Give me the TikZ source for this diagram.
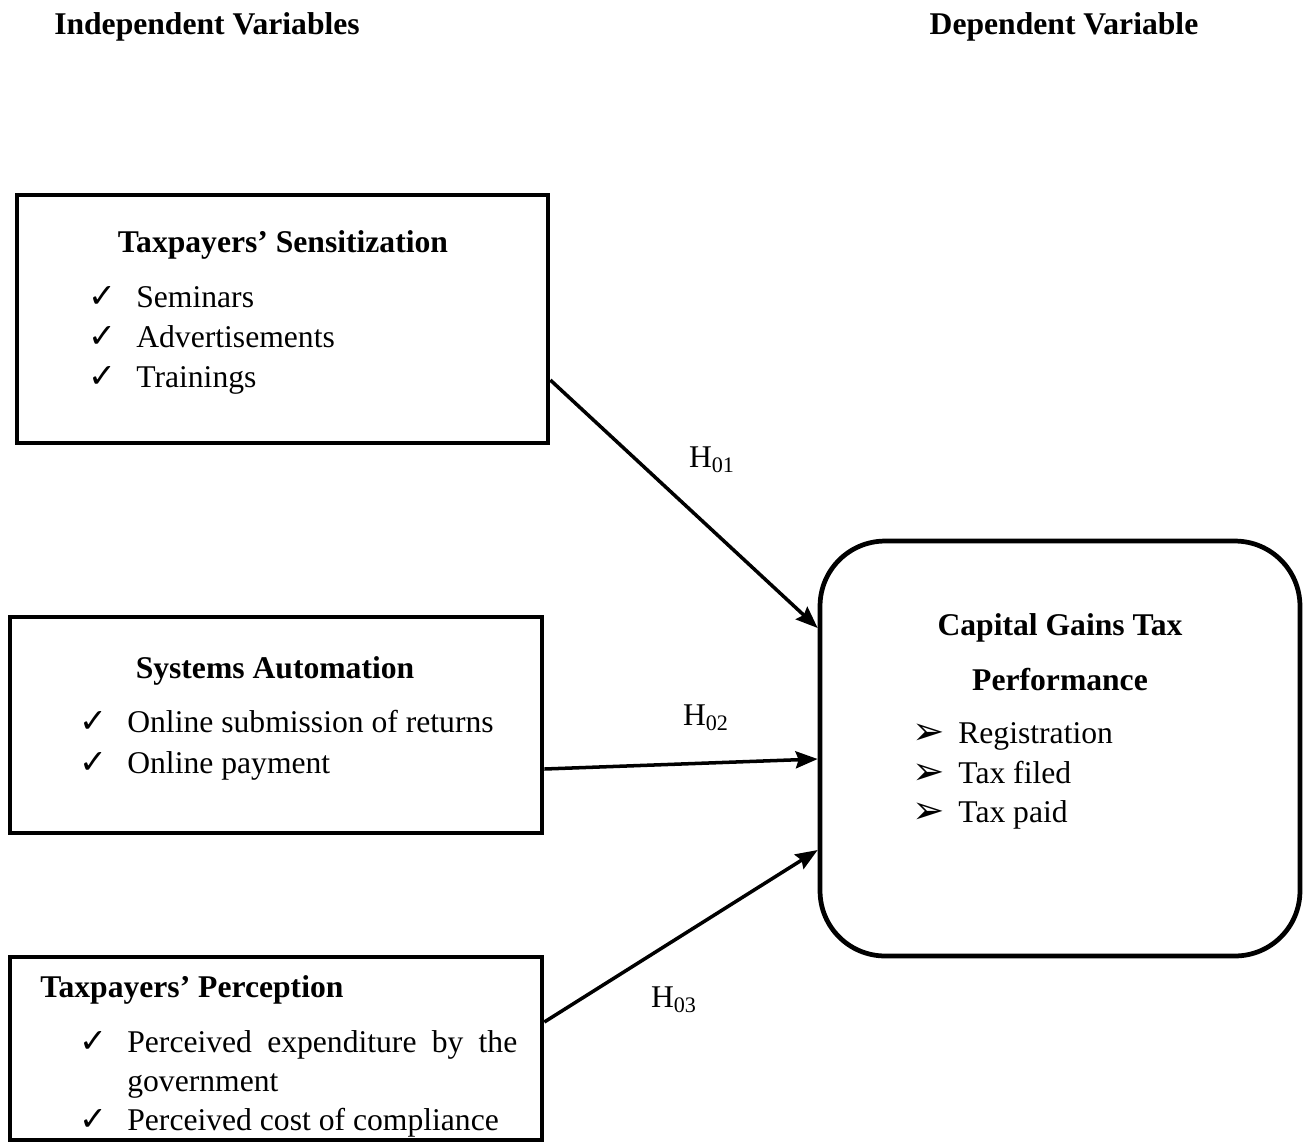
\documentclass[tikz,border=0pt]{standalone}
\usepackage{fontspec}
\setmainfont{Liberation Serif}
\newfontfamily\symfont{DejaVu Sans}
\usetikzlibrary{arrows.meta,calc}

\begin{document}
\begin{tikzpicture}[x=0.02cm,y=-0.02cm,
  font=\fontsize{18}{22}\selectfont,
  box/.style={draw,line width=2.7pt,inner sep=0pt},
  head/.style={anchor=base,inner sep=0pt,font=\fontsize{18}{22}\selectfont\bfseries},
  item/.style={anchor=base west,inner sep=0pt},
  tick/.style={anchor=base west,inner sep=0pt,font=\fontsize{19}{22}\selectfont\symfont},
  pointer/.style={anchor=base west,inner sep=0pt,font=\fontsize{22}{22}\selectfont\symfont},
  link/.style={line width=2pt,-{Stealth[length=0.44cm,width=0.34cm,inset=0.06cm]}}]

    \useasboundingbox (0,0) rectangle (1312,1144);

    % headings
    \node[head] (indep) at (207,34) {Independent Variables};
    \node[head] (dep) at (1064,34) {Dependent Variable};

    % boxes
    \node[box,minimum width=10.62cm,minimum height=4.96cm] (sens) at (282.5,319) {};
    \node[box,minimum width=10.64cm,minimum height=4.32cm] (auto) at (276,725) {};
    \node[box,minimum width=10.64cm,minimum height=3.66cm] (perc) at (276,1048.5) {};
    \node[box,rounded corners=1.3cm,minimum width=9.6cm,minimum height=8.3cm] (cgt) at (1060,748.5) {};

	% taxpayers' sensitization
	\node[head] (sensT) at (283,252) {Taxpayers’ Sensitization};
	\node[tick] at (88,307) {✓};
	\node[item] (s1) at (136,307) {Seminars};
	\node[tick] at (88,347) {✓};
	\node[item] (s2) at (136,347) {Advertisements};
	\node[tick] at (88,387) {✓};
	\node[item] (s3) at (136,387) {Trainings};

	% systems automation
	\node[head] (autoT) at (275,678) {Systems Automation};
	\node[tick] at (79,732) {✓};
	\node[item] (a1) at (127,732) {Online submission of returns};
	\node[tick] at (79,773) {✓};
	\node[item] (a2) at (127,773) {Online payment};

	% taxpayers' perception
	\node[head,anchor=base west] (percT) at (40,997) {Taxpayers’ Perception};
	\node[tick] at (79,1052) {✓};
	\node[item] (p1) at (127,1052) {\makebox[7.8cm][s]{Perceived expenditure by the}};
	\node[item] (p2) at (127,1091) {government};
	\node[tick] at (79,1130) {✓};
	\node[item] (p3) at (127,1130) {Perceived cost of compliance};

	% capital gains tax performance
	\node[head] (cgtT) at (1060,635) {Capital Gains Tax};
	\node[head] (cgtT2) at (1060,690) {Performance};
	\node[pointer] at (912,744) {➢};
	\node[item] (c1) at (958,743) {Registration};
	\node[pointer] at (912,784) {➢};
	\node[item] (c2) at (958,783) {Tax filed};
	\node[pointer] at (912,823) {➢};
	\node[item] (c3) at (958,822) {Tax paid};

	% hypotheses
	\draw[link] ($(sens.east)+(0,61)$) -- ($(cgt.west)+(0,-120.5)$);
	\draw[link] ($(auto.east)+(0,44)$) -- ($(cgt.west)+(0,10.5)$);
	\draw[link] ($(perc.east)+(0,-26.5)$) -- ($(cgt.west)+(0,101.5)$);
	\node (h1) at (712,460) {H\textsubscript{01}};
	\node (h2) at (706,718) {H\textsubscript{02}};
	\node (h3) at (674,1000) {H\textsubscript{03}};

\end{tikzpicture}
\end{document}
